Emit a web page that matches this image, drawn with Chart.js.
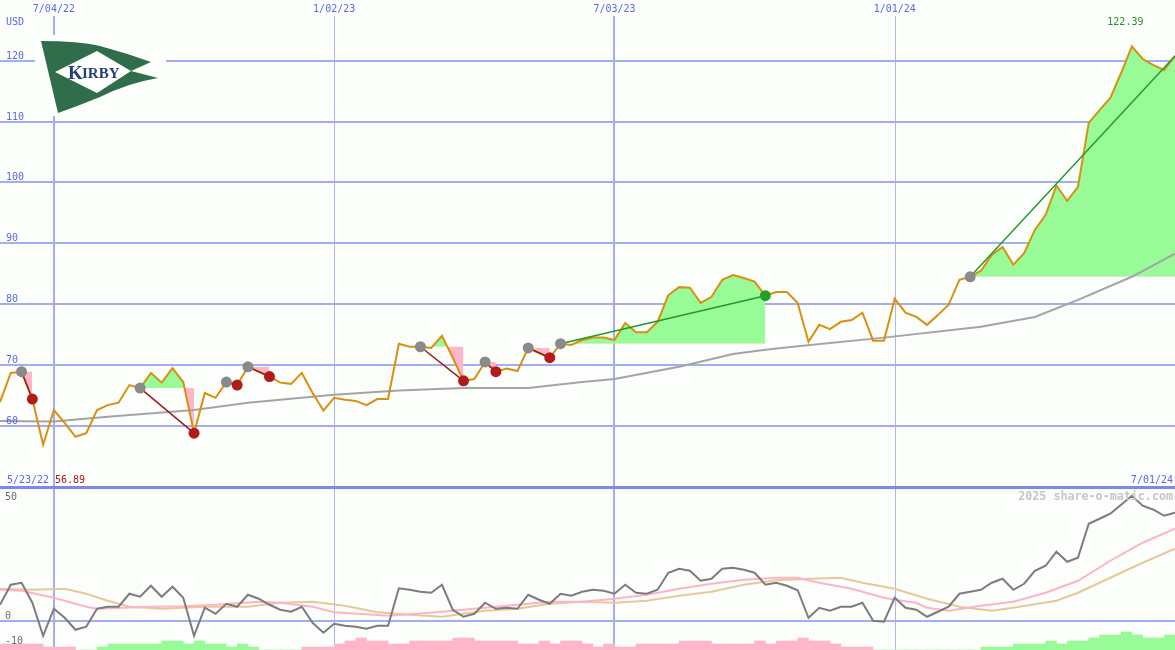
<!DOCTYPE html>
<html>
<head>
<meta charset="utf-8">
<script src="https://cdn.jsdelivr.net/npm/chart.js@4.4.1/dist/chart.umd.min.js"></script>
<style>
html,body{margin:0;padding:0;background:#fcfefc;}
canvas{display:block;}
</style>
</head>
<body>
<canvas id="kexChart" width="1175" height="650"></canvas>
<script>
// weekly closes, index 0 = first visible week
const price=[
63.9,68.7,68.9,64.4,56.89,62.6,60.5,58.2,58.8,62.6,
63.4,63.8,66.7,66.2,68.7,67.1,69.5,67.2,58.8,65.4,
64.6,67.2,66.7,69.7,68.9,68.1,67.1,66.9,68.7,65.4,
62.5,64.6,64.3,64.1,63.4,64.4,64.4,73.5,73.0,73.0,
72.8,74.8,71.2,67.4,67.7,70.5,68.9,69.4,69.0,72.8,
72.0,71.2,73.5,73.3,74.1,74.5,74.5,74.1,76.9,75.4,
75.4,77.1,81.5,82.8,82.7,80.2,81.2,84.0,84.8,84.3,
83.7,81.4,82.0,82.0,80.2,73.8,76.6,75.9,77.1,77.4,
78.6,74.0,74.0,80.9,78.6,77.9,76.6,78.2,79.9,84.0,
84.5,85.5,88.1,89.4,86.5,88.4,92.2,94.7,99.5,97.0,
99.3,109.8,111.9,113.9,118.0,122.39,120.3,119.3,118.5,120.8
];

// long moving average (grey), read at a few weeks
const maWeeks=[0,5,10,18,23,31,37,43,49,54,57,63,68,71,74,82,91,96,100,105,109];
const maValues=[60.8,60.7,61.5,62.6,63.8,65.1,65.8,66.2,66.2,67.2,67.7,69.7,71.8,72.5,73.1,74.5,76.3,77.9,80.7,84.5,88.3];

// oscillator panel
const osc=[
6.4,14.4,15.2,7.2,-6.0,4.8,1.2,-3.6,-2.4,4.8,
5.6,5.6,10.8,9.6,14.0,9.6,13.6,9.2,-6.0,5.2,
2.8,6.8,5.6,10.4,8.8,6.4,4.4,3.6,5.6,-0.8,
-4.8,-1.2,-2.0,-2.4,-3.2,-2.0,-2.0,13.0,12.4,11.6,
11.2,14.4,4.4,1.6,2.8,7.2,4.8,5.2,4.8,10.4,
8.4,6.8,10.8,10.0,11.6,12.4,12.0,10.8,14.4,11.2,
10.8,12.4,19.2,20.8,20.0,16.0,16.8,20.8,21.2,20.4,
19.2,14.4,15.2,14.0,12.2,1.2,5.2,4.0,5.6,5.6,
7.2,0.0,-0.4,9.2,5.2,4.4,1.6,3.6,5.6,10.8,
11.6,12.4,15.2,16.8,12.4,14.8,20.0,22.0,27.6,23.6,
25.2,38.8,40.8,42.8,46.4,50.0,46.0,44.4,42.0,43.2
];
const fastWeeks=[0,2,5,8,9,14,17,20,24,26,29,31,34,36,38,41,45,48,51,54,57,60,63,66,69,72,74,76,79,82,83,85,86,88,91,94,97,100,103,106,109];
const fastValues=[12.4,12.0,9.2,5.6,4.8,5.6,5.8,6.4,7.6,7.2,5.6,3.4,2.6,2.0,2.6,3.6,5.2,6.4,7.6,7.6,8.8,10.4,12.8,14.8,16.4,17.2,17.2,15.2,12.8,9.2,8.4,7.2,5.2,4.0,6.0,7.6,11.2,16.0,24.0,31.2,36.8];
const slowWeeks=[0,3,6,8,10,12,15,19,23,26,29,32,35,38,41,45,48,51,54,57,60,63,66,69,72,75,78,80,83,86,89,92,94,98,100,103,106,109];
const slowValues=[12.8,12.4,12.8,10.8,8.0,5.6,4.8,5.6,5.6,7.2,7.6,6.0,3.4,2.4,1.6,4.0,4.8,6.8,7.6,7.2,8.0,10.0,11.6,14.4,16.2,16.8,17.2,15.2,12.8,8.8,5.6,4.0,5.2,8.0,11.2,17.2,23.2,28.8];
const hist=[
-2,-2,-2,-2,-1,-1,-1,0,0,1,
2,2,2,2,2,3,3,2,3,2,
2,1,2,1,0,0,0,0,-1,-1,
-1,-2,-3,-4,-3,-3,-2,-2,-3,-3,
-3,-3,-4,-4,-3,-3,-3,-3,-2,-2,
-3,-2,-3,-3,-2,-1,-2,-1,-1,-2,
-2,-2,-2,-3,-3,-3,-2,-2,-2,-2,
-3,-2,-3,-3,-4,-3,-3,-2,-1,-1,
-1,0,0,0,0,0,0,0,0,0,
0,1,1,1,2,2,2,3,2,3,
3,4,5,5,6,5,4,4,5,5
];

// signals: entry week, exit week
const tradeEntry=[2,13,21,23,39,45,49,52,90];
const tradeExit=[3,18,22,25,43,46,51,71,109];
const tradeClosed=[true,true,true,true,true,true,true,true,false];

// axis labels
const xTickWeeks=[5,31,57,83];
const xTickLabels=['7/04/22','1/02/23','7/03/23','1/01/24'];
const priceTicks=[60,70,80,90,100,110,120];
const panelSplit=50;
const oscTicks=[50,0,-10];
const startLabel='5/23/22';
const endLabel='7/01/24';
const currency='USD';
const watermark='2025 share-o-matic.com';

const BG='#fcfefc';
const GREEN='#98fb98';
const PINK='#ffb6c8';
const BLUE='#5b68ea';
const MONO='"DejaVu Sans Mono", monospace';

const datasets=[];

datasets.push({
type:'bar',
data:hist.map((v,i)=>({x:i+0.5,y:Math.abs(v)})),
backgroundColor:hist.map(v=>v>=0?GREEN:PINK),
yAxisID:'yh',
barPercentage:1,
categoryPercentage:1,
borderWidth:0,
order:20
});

tradeEntry.forEach((e,k)=>{
const x=tradeExit[k];
datasets.push({
data:price.slice(e,x+1).map((v,j)=>({x:e+j,y:v})),
yAxisID:'yp',
borderWidth:0,
borderColor:'transparent',
pointRadius:0,
fill:{target:{value:price[e]},above:GREEN,below:PINK},
order:15
});
});

datasets.push({
data:maWeeks.map((w,i)=>({x:w,y:maValues[i]})),
yAxisID:'yp',
borderColor:'#a4a4a4',
borderWidth:2,
pointRadius:0,
order:12
});

datasets.push({
data:slowWeeks.map((w,i)=>({x:w,y:slowValues[i]})),
yAxisID:'yo',
borderColor:'#e6c999',
borderWidth:2,
pointRadius:0,
order:11
});
datasets.push({
data:fastWeeks.map((w,i)=>({x:w,y:fastValues[i]})),
yAxisID:'yo',
borderColor:'#ffb3c6',
borderWidth:2,
pointRadius:0,
order:10
});
datasets.push({
data:osc.map((v,i)=>({x:i,y:v})),
yAxisID:'yo',
borderColor:'#7c7c7c',
borderWidth:2,
pointRadius:0,
order:9
});

datasets.push({
data:price.map((v,i)=>({x:i,y:v})),
yAxisID:'yp',
borderColor:'#d9900f',
borderWidth:2,
pointRadius:0,
order:5
});

tradeEntry.forEach((e,k)=>{
const x=tradeExit[k];
const win=price[x]>price[e];
datasets.push({
data:[{x:e,y:price[e]},{x:x,y:price[x]}],
yAxisID:'yp',
borderColor:win?'#22992a':'#9b1b1b',
borderWidth:1.5,
pointRadius:0,
order:4
});
});

const closedExits=tradeExit.filter((x,k)=>tradeClosed[k]);
datasets.push({
data:tradeEntry.map(e=>({x:e,y:price[e]})),
yAxisID:'yp',
showLine:false,
pointRadius:5.5,
pointBackgroundColor:'#8a8a8a',
pointBorderWidth:0,
order:2
});
datasets.push({
data:closedExits.map(x=>({x:x,y:price[x]})),
yAxisID:'yp',
showLine:false,
pointRadius:5.5,
pointBackgroundColor:closedExits.map(x=>{
const e=tradeEntry[tradeExit.indexOf(x)];
return price[x]>price[e]?'#25a025':'#b01c1c';
}),
pointBorderWidth:0,
order:1
});

function drawLogo(ctx){
ctx.fillStyle=BG;
ctx.fillRect(35,35,131,81);
ctx.fillStyle='#2f6d4b';
ctx.beginPath();
ctx.moveTo(41,41);
ctx.quadraticCurveTo(78,41,100,46);
ctx.quadraticCurveTo(126,53,151,62);
ctx.lineTo(131,71);
ctx.lineTo(158,78);
ctx.quadraticCurveTo(128,83,100,97);
ctx.quadraticCurveTo(78,106,58,113);
ctx.closePath();
ctx.fill();
ctx.fillStyle='#ffffff';
ctx.beginPath();
ctx.moveTo(55,72);
ctx.lineTo(97,51);
ctx.lineTo(131,71);
ctx.lineTo(97,93);
ctx.closePath();
ctx.fill();
ctx.fillStyle='#243f7d';
ctx.textAlign='left';
ctx.textBaseline='alphabetic';
ctx.font='bold 19px "Liberation Serif"';
ctx.fillText('K',68,78.5);
ctx.font='bold 15px "Liberation Serif"';
ctx.fillText('IRBY',82,78);
}

const gridPlugin={
id:'grid',
beforeDraw(chart){
const ctx=chart.ctx;
ctx.save();
ctx.fillStyle=BG;
ctx.fillRect(0,0,chart.width,chart.height);
ctx.restore();
},
beforeDatasetsDraw(chart){
const {ctx,width,height}=chart;
const xs=chart.scales.x,yp=chart.scales.yp,yo=chart.scales.yo;
ctx.save();
xTickWeeks.forEach((w,k)=>{
const px=Math.round(xs.getPixelForValue(w));
if(k%2===0){
ctx.fillStyle='#a3adf2';
ctx.fillRect(px-1,16,2,height-16);
}else{
ctx.fillStyle='#b2b6e6';
ctx.fillRect(px,16,1,height-16);
}
});
ctx.fillStyle='#a3adf2';
priceTicks.forEach(v=>{
const y=Math.round(yp.getPixelForValue(v));
ctx.fillRect(0,y-1,width,2);
});
const y0=Math.round(yo.getPixelForValue(0));
ctx.fillRect(0,y0-1,width,2);
ctx.fillStyle='#7d87ec';
const ys=Math.round(yp.getPixelForValue(panelSplit));
ctx.fillRect(0,ys-1,width,3);
drawLogo(ctx);
ctx.restore();
},
afterDraw(chart){
const ctx=chart.ctx;
const xs=chart.scales.x,yp=chart.scales.yp,yo=chart.scales.yo;
const splitY=yp.getPixelForValue(panelSplit);
ctx.save();
ctx.font='10px '+MONO;
ctx.textBaseline='alphabetic';
ctx.fillStyle=BLUE;
ctx.textAlign='center';
xTickWeeks.forEach((w,k)=>{
ctx.fillText(xTickLabels[k],xs.getPixelForValue(w),12);
});
ctx.textAlign='left';
ctx.fillText(currency,6,25);
priceTicks.forEach(v=>{
ctx.fillText(String(v),6,Math.round(yp.getPixelForValue(v))-2);
});
ctx.fillText(startLabel,7,483);
ctx.textAlign='right';
ctx.fillText(endLabel,1173,483);
// low and high marks
const lo=Math.min(...price),hi=Math.max(...price);
ctx.textAlign='left';
ctx.fillStyle='#a01818';
ctx.fillText(lo.toFixed(2),55,483);
ctx.textAlign='center';
ctx.fillStyle='#2a8c2a';
ctx.fillText(hi.toFixed(2),xs.getPixelForValue(price.indexOf(hi))-6.5,25);
// oscillator labels
ctx.textAlign='left';
ctx.fillStyle='#6a6a6a';
oscTicks.forEach(v=>{
const y=Math.max(Math.round(yo.getPixelForValue(v))-2,splitY+13);
ctx.fillText(String(v),5,y);
});
ctx.font='bold 11.7px '+MONO;
ctx.fillStyle='#c6c6c6';
ctx.textAlign='right';
ctx.fillText(watermark,1173,500);
ctx.restore();
}
};

new Chart(
document.getElementById('kexChart'),
{
type:'line',
data:{datasets:datasets},
options:{
responsive:false,
animation:false,
events:[],
layout:{padding:0,autoPadding:false},
elements:{line:{tension:0}},
plugins:{legend:{display:false},tooltip:{enabled:false}},
scales:{
x:{type:'linear',min:0,max:109,display:false,offset:false},
yp:{type:'linear',min:23.15,max:130,display:false},
yo:{type:'linear',min:-11.7,max:248.3,display:false},
yh:{type:'linear',min:0,max:650/3,display:false}
}
},
plugins:[gridPlugin]
}
);
</script>
</body>
</html>
